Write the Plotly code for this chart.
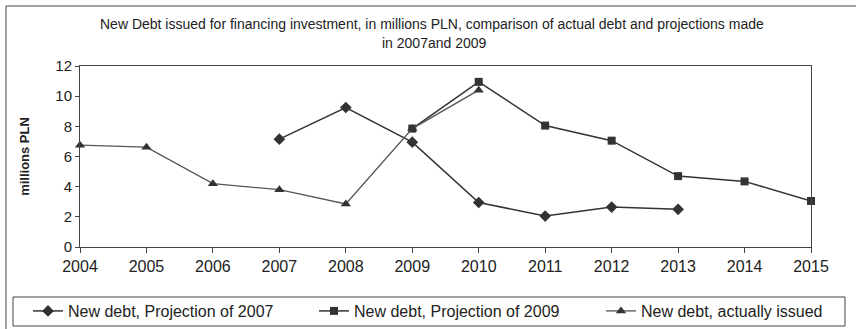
import plotly.graph_objects as go

# Years on the horizontal axis
years = [2004, 2005, 2006, 2007, 2008, 2009, 2010, 2011, 2012, 2013, 2014, 2015]

# New debt in millions PLN
proj_2007_years = [2007, 2008, 2009, 2010, 2011, 2012, 2013]
proj_2007 = [7.15, 9.25, 6.95, 2.95, 2.05, 2.65, 2.5]

proj_2009_years = [2009, 2010, 2011, 2012, 2013, 2014, 2015]
proj_2009 = [7.85, 10.95, 8.05, 7.05, 4.7, 4.35, 3.05]

actual_years = [2004, 2005, 2006, 2007, 2008, 2009, 2010]
actual = [6.75, 6.62, 4.2, 3.8, 2.85, 7.85, 10.4]

y_ticks = [0, 2, 4, 6, 8, 10, 12]

FONT = "Liberation Sans, Arial, sans-serif"
INK = "#333333"

# pixel geometry of the plotting area
W, H = 856, 329
L, R, T, B = 80, 45, 66, 82
pw, ph = W - L - R, H - T - B


def px_x(x):
    return (x - L) / pw


def px_y(y):
    return (H - B - y) / ph


fig = go.Figure()

fig.add_trace(go.Scatter(
    x=proj_2007_years, y=proj_2007, name="New debt, Projection of 2007",
    mode="lines+markers", cliponaxis=False, legend="legend",
    line=dict(color=INK, width=1.5),
    marker=dict(symbol="diamond", size=9, color=INK),
))
fig.add_trace(go.Scatter(
    x=proj_2009_years, y=proj_2009, name="New debt, Projection of 2009",
    mode="lines+markers", cliponaxis=False, legend="legend2",
    line=dict(color=INK, width=1.5),
    marker=dict(symbol="square", size=8, color=INK),
))
fig.add_trace(go.Scatter(
    x=actual_years, y=actual, name="New debt, actually issued",
    mode="lines+markers", cliponaxis=False, legend="legend3",
    line=dict(color="#555555", width=1.3),
    marker=dict(symbol="triangle-up", size=9, color=INK),
))

shapes = [
    # outer chart frame
    dict(type="rect", xref="paper", yref="paper",
         x0=px_x(6), x1=px_x(870), y0=px_y(345), y1=px_y(6),
         line=dict(color="#444444", width=1), layer="below"),
    # legend frame
    dict(type="rect", xref="paper", yref="paper",
         x0=px_x(13), x1=px_x(845), y0=px_y(326), y1=px_y(297),
         line=dict(color="#444444", width=1), layer="below"),
]

annotations = [
    dict(text="New Debt issued for financing investment, in millions PLN, comparison of actual debt and projections made",
         xref="paper", yref="paper", x=px_x(432), y=px_y(24), showarrow=False,
         xanchor="center", yanchor="middle", font=dict(family=FONT, size=14, color="#222222")),
    dict(text="in 2007and 2009",
         xref="paper", yref="paper", x=px_x(434), y=px_y(43), showarrow=False,
         xanchor="center", yanchor="middle", font=dict(family=FONT, size=14, color="#222222")),
]


def legend_box(x_px):
    return dict(
        orientation="h", xref="container", yref="container",
        x=x_px / W, y=1 - 311 / H, xanchor="left", yanchor="middle",
        font=dict(family=FONT, size=16, color="#222222"),
        bgcolor="rgba(0,0,0,0)", borderwidth=0,
    )


fig.update_layout(
    width=W, height=H,
    margin=dict(l=L, r=R, t=T, b=B),
    paper_bgcolor="white", plot_bgcolor="white",
    font=dict(family=FONT, color="#222222"),
    showlegend=True,
    legend=legend_box(28),
    legend2=legend_box(314),
    legend3=legend_box(601),
    shapes=shapes,
    annotations=annotations,
)

fig.update_xaxes(
    range=[2004, 2015], tickmode="array", tickvals=years,
    ticktext=[str(y) for y in years],
    showline=True, linecolor="#444444", linewidth=1, mirror=True,
    ticks="outside", ticklen=5, tickcolor="#444444",
    showgrid=False, zeroline=False,
    tickfont=dict(family=FONT, size=16, color="#222222"),
)
fig.update_yaxes(
    range=[0, 12], tickmode="array", tickvals=y_ticks,
    showline=True, linecolor="#444444", linewidth=1, mirror=True,
    ticks="outside", ticklen=4, tickcolor="#444444",
    showgrid=False, zeroline=False,
    tickfont=dict(family=FONT, size=15, color="#222222"),
    title=dict(text="<b>millions PLN</b>", font=dict(family=FONT, size=13, color="#222222"), standoff=22),
)

fig.write_html("out.html")
